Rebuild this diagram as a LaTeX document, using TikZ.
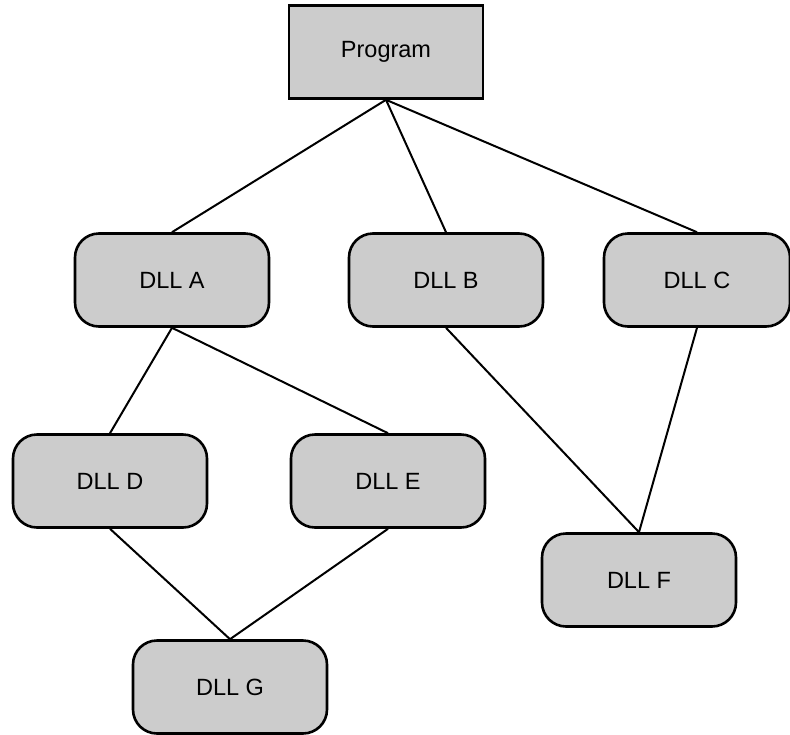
\documentclass[tikz,border=0pt]{standalone}
\usepackage{fontspec}
\setmainfont{Liberation Sans}
\usetikzlibrary{backgrounds}
\begin{document}
\begin{tikzpicture}[x=1pt,y=-1pt,
  box/.style={draw=black, fill=boxgray, line width=2.6pt, minimum width=194pt,
    minimum height=93pt, inner sep=0pt, font=\fontsize{23.5}{26}\selectfont},
  dll/.style={box, rounded corners=24pt},
  link/.style={draw=black, line width=2pt}]
\definecolor{boxgray}{HTML}{CCCCCC}
\useasboundingbox (0,0) rectangle (790,734);
% program and its libraries
\node[box] (prog) at (386,52) {Program};
\node[dll] (a) at (172,280) {DLL A};
\node[dll] (b) at (446,280) {DLL B};
\node[dll, minimum width=186pt] (c) at (697,280) {DLL C};
\node[dll] (d) at (110,481) {DLL D};
\node[dll] (e) at (388,481) {DLL E};
\node[dll] (f) at (639,580) {DLL F};
\node[dll] (g) at (230,687) {DLL G};
% dependency links, behind the boxes
\begin{scope}[on background layer]
\draw[link] (prog.south) -- (a.north);
\draw[link] (prog.south) -- (b.north);
\draw[link] (prog.south) -- (c.north);
\draw[link] (a.south) -- (d.north);
\draw[link] (a.south) -- (e.north);
\draw[link] (b.south) -- (f.north);
\draw[link] (c.south) -- (f.north);
\draw[link] (d.south) -- (g.north);
\draw[link] (e.south) -- (g.north);
\end{scope}
\end{tikzpicture}
\end{document}
